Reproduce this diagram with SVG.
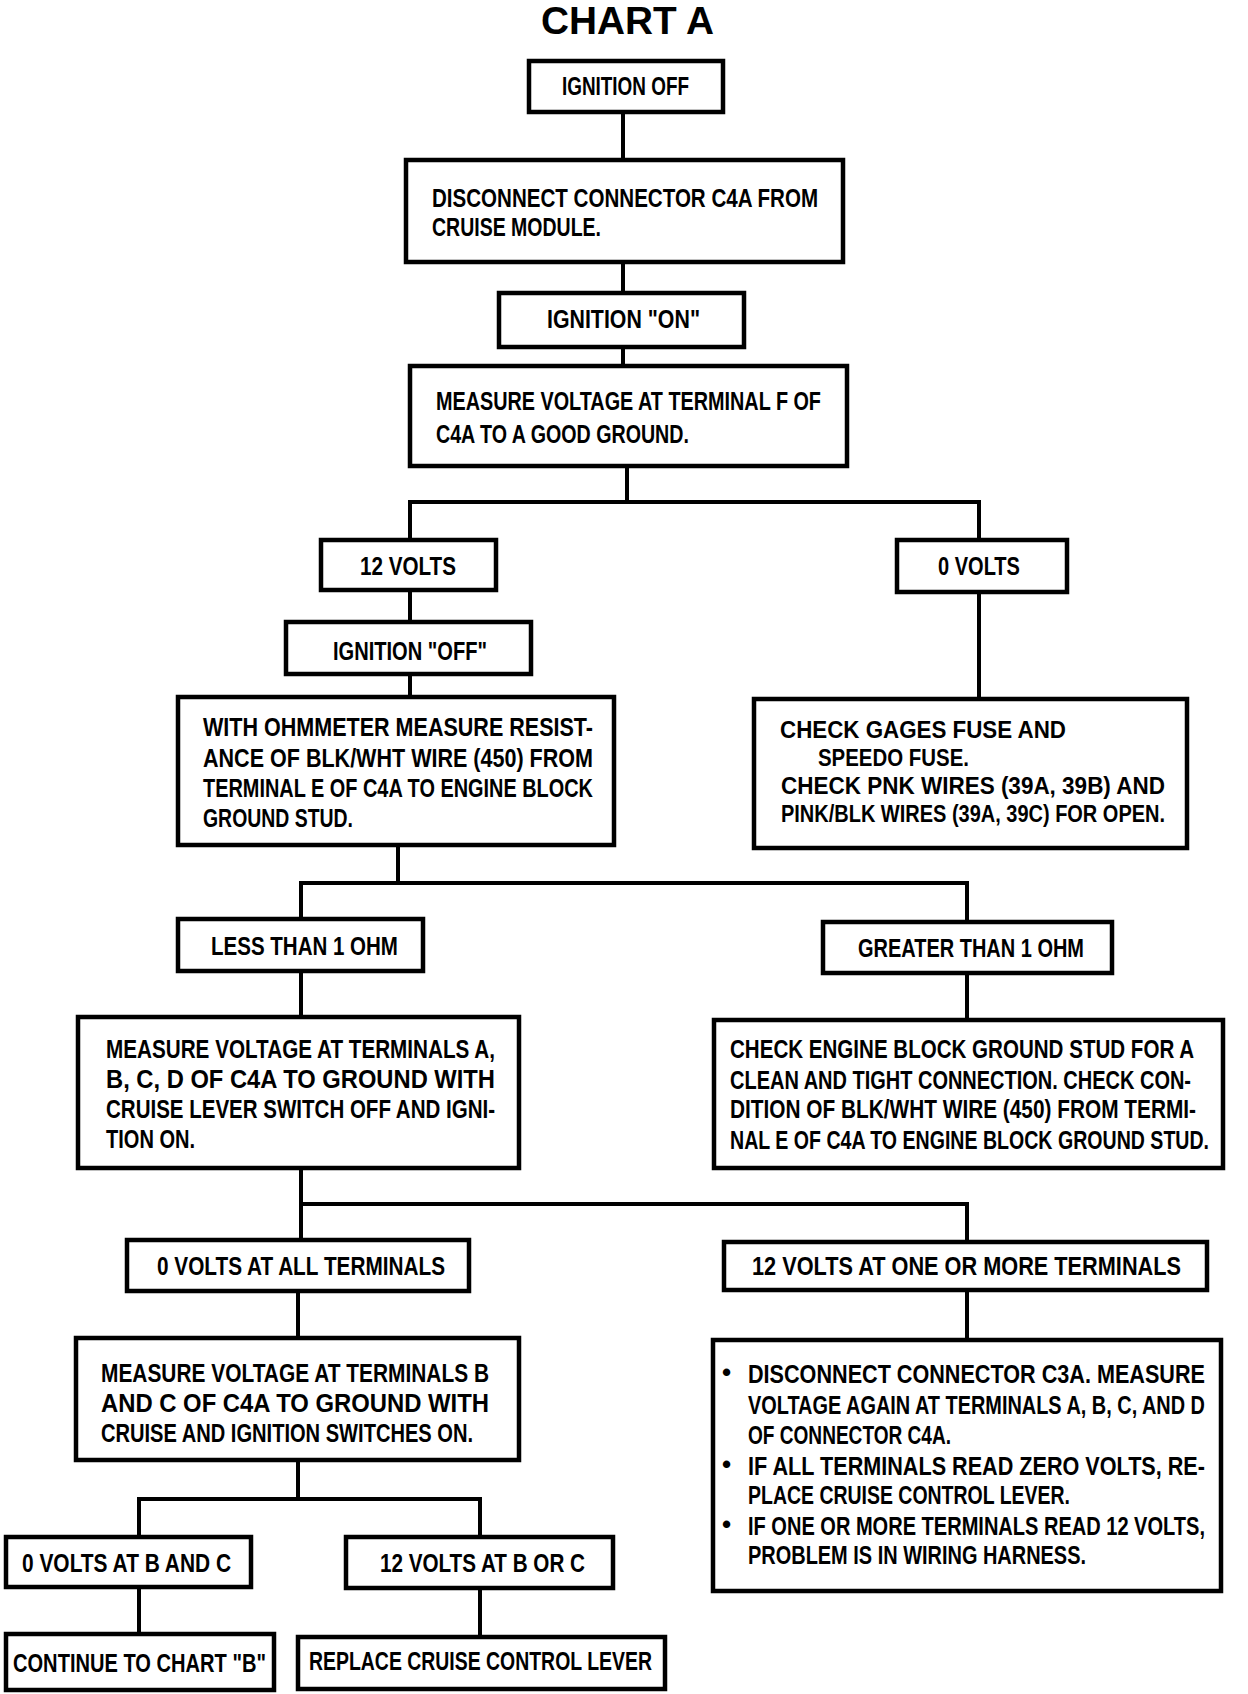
<svg xmlns="http://www.w3.org/2000/svg" width="1248" height="1694" viewBox="0 0 1248 1694">
<style>
.bg{fill:#fff}
.box{fill:#fff;stroke:#000;stroke-width:4.5}
.ln{fill:none;stroke:#000;stroke-width:4;stroke-linecap:square}
text{font-family:"Liberation Sans",Arial,sans-serif;font-weight:bold;font-size:26px;fill:#000}
.title{font-size:38px}
.sm{font-size:24px}
</style>
<rect class="bg" x="0" y="0" width="1248" height="1694"/>
<text class="title" x="541" y="34" textLength="173" lengthAdjust="spacingAndGlyphs">CHART A</text>
<g id="connectors">
<path class="ln" d="M623,112V160M623,262V293M623,347V366"/>
<path class="ln" d="M627,466V502M410,502H979M410,502V540M979,502V540"/>
<path class="ln" d="M410,590V622M410,674V697M979,592V699"/>
<path class="ln" d="M398,845V883M301,883H967M301,883V919M967,883V922"/>
<path class="ln" d="M301,971V1017M967,973V1020"/>
<path class="ln" d="M301,1168V1204M301,1204H967M301,1204V1240M967,1204V1242"/>
<path class="ln" d="M298,1291V1338M967,1290V1340"/>
<path class="ln" d="M298,1460V1499M139,1499H480M139,1499V1537M480,1499V1537"/>
<path class="ln" d="M139,1587V1634M480,1588V1637"/>
</g>
<g id="ignition-off">
<rect class="box" x="529" y="61" width="194" height="51"/>
<text transform="matrix(.75 0 0 1 562 95)" textLength="169.3" lengthAdjust="spacingAndGlyphs">IGNITION OFF</text>
</g>
<g id="disconnect-c4a">
<rect class="box" x="406" y="160" width="437" height="102"/>
<text transform="matrix(.75 0 0 1 432 207)" textLength="514.7" lengthAdjust="spacingAndGlyphs">DISCONNECT  CONNECTOR  C4A  FROM</text>
<text transform="matrix(.75 0 0 1 432 236)" textLength="225.3" lengthAdjust="spacingAndGlyphs">CRUISE MODULE.</text>
</g>
<g id="ignition-on">
<rect class="box" x="499" y="293" width="245" height="54"/>
<text transform="matrix(.75 0 0 1 547 328)" textLength="204" lengthAdjust="spacingAndGlyphs">IGNITION "ON"</text>
</g>
<g id="measure-f">
<rect class="box" x="410" y="366" width="437" height="100"/>
<text transform="matrix(.75 0 0 1 436 410)" textLength="513.3" lengthAdjust="spacingAndGlyphs">MEASURE VOLTAGE AT TERMINAL F OF</text>
<text transform="matrix(.75 0 0 1 436 443)" textLength="337.3" lengthAdjust="spacingAndGlyphs">C4A TO A GOOD GROUND.</text>
</g>
<g id="twelve-volts">
<rect class="box" x="321" y="540" width="175" height="50"/>
<text transform="matrix(.75 0 0 1 360 575)" textLength="128" lengthAdjust="spacingAndGlyphs">12 VOLTS</text>
</g>
<g id="zero-volts">
<rect class="box" x="897" y="540" width="170" height="52"/>
<text transform="matrix(.75 0 0 1 938 575)" textLength="109.3" lengthAdjust="spacingAndGlyphs">0 VOLTS</text>
</g>
<g id="ignition-off-2">
<rect class="box" x="286" y="622" width="245" height="52"/>
<text transform="matrix(.75 0 0 1 333 660)" textLength="205.3" lengthAdjust="spacingAndGlyphs">IGNITION "OFF"</text>
</g>
<g id="ohmmeter">
<rect class="box" x="178" y="697" width="436" height="148"/>
<text transform="matrix(.75 0 0 1 203 736)" textLength="520" lengthAdjust="spacingAndGlyphs">WITH  OHMMETER  MEASURE  RESIST-</text>
<text transform="matrix(.75 0 0 1 203 767)" textLength="520" lengthAdjust="spacingAndGlyphs">ANCE  OF  BLK/WHT  WIRE  (450)  FROM</text>
<text transform="matrix(.75 0 0 1 203 797)" textLength="520" lengthAdjust="spacingAndGlyphs">TERMINAL E OF C4A TO ENGINE BLOCK</text>
<text transform="matrix(.75 0 0 1 203 827)" textLength="200" lengthAdjust="spacingAndGlyphs">GROUND STUD.</text>
</g>
<g id="check-gages">
<rect class="box" x="754" y="699" width="433" height="149"/>
<text class="sm" transform="matrix(.75 0 0 1 780 738)" textLength="381.3" lengthAdjust="spacingAndGlyphs">CHECK  GAGES  FUSE  AND</text>
<text class="sm" transform="matrix(.75 0 0 1 818 766)" textLength="201.3" lengthAdjust="spacingAndGlyphs">SPEEDO FUSE.</text>
<text class="sm" transform="matrix(.75 0 0 1 781 794)" textLength="512" lengthAdjust="spacingAndGlyphs">CHECK  PNK  WIRES  (39A,  39B)  AND</text>
<text class="sm" transform="matrix(.75 0 0 1 781 822)" textLength="512" lengthAdjust="spacingAndGlyphs">PINK/BLK WIRES (39A, 39C) FOR OPEN.</text>
</g>
<g id="less-than-1-ohm">
<rect class="box" x="178" y="919" width="245" height="52"/>
<text transform="matrix(.75 0 0 1 211 955)" textLength="249.3" lengthAdjust="spacingAndGlyphs">LESS THAN 1 OHM</text>
</g>
<g id="greater-than-1-ohm">
<rect class="box" x="823" y="922" width="289" height="51"/>
<text transform="matrix(.75 0 0 1 858 957)" textLength="301.3" lengthAdjust="spacingAndGlyphs">GREATER THAN 1 OHM</text>
</g>
<g id="measure-abcd">
<rect class="box" x="78" y="1017" width="441" height="151"/>
<text transform="matrix(.75 0 0 1 106 1058)" textLength="518.7" lengthAdjust="spacingAndGlyphs">MEASURE VOLTAGE AT TERMINALS A,</text>
<text transform="matrix(.75 0 0 1 106 1088)" textLength="518.7" lengthAdjust="spacingAndGlyphs">B,  C,  D  OF  C4A  TO  GROUND  WITH</text>
<text transform="matrix(.75 0 0 1 106 1118)" textLength="518.7" lengthAdjust="spacingAndGlyphs">CRUISE LEVER SWITCH OFF AND IGNI-</text>
<text transform="matrix(.75 0 0 1 106 1148)" textLength="118.7" lengthAdjust="spacingAndGlyphs">TION ON.</text>
</g>
<g id="check-engine-block">
<rect class="box" x="714" y="1020" width="509" height="148"/>
<text transform="matrix(.75 0 0 1 730 1058)" textLength="618.7" lengthAdjust="spacingAndGlyphs">CHECK  ENGINE  BLOCK  GROUND  STUD  FOR  A</text>
<text transform="matrix(.75 0 0 1 730 1089)" textLength="614.7" lengthAdjust="spacingAndGlyphs">CLEAN AND TIGHT CONNECTION. CHECK  CON-</text>
<text transform="matrix(.75 0 0 1 730 1118)" textLength="621.3" lengthAdjust="spacingAndGlyphs">DITION OF BLK/WHT WIRE (450) FROM TERMI-</text>
<text transform="matrix(.75 0 0 1 730 1149)" textLength="638.7" lengthAdjust="spacingAndGlyphs">NAL E OF C4A TO ENGINE BLOCK GROUND STUD.</text>
</g>
<g id="zero-volts-all">
<rect class="box" x="127" y="1240" width="342" height="51"/>
<text transform="matrix(.75 0 0 1 157 1275)" textLength="384" lengthAdjust="spacingAndGlyphs">0 VOLTS AT ALL TERMINALS</text>
</g>
<g id="twelve-volts-one-or-more">
<rect class="box" x="724" y="1242" width="483" height="48"/>
<text transform="matrix(.75 0 0 1 752 1275)" textLength="572" lengthAdjust="spacingAndGlyphs">12  VOLTS  AT  ONE  OR  MORE  TERMINALS</text>
</g>
<g id="measure-bc">
<rect class="box" x="76" y="1338" width="443" height="122"/>
<text transform="matrix(.75 0 0 1 101 1382)" textLength="517.3" lengthAdjust="spacingAndGlyphs">MEASURE  VOLTAGE  AT  TERMINALS  B</text>
<text transform="matrix(.75 0 0 1 101 1412)" textLength="517.3" lengthAdjust="spacingAndGlyphs">AND  C  OF  C4A  TO  GROUND  WITH</text>
<text transform="matrix(.75 0 0 1 101 1442)" textLength="496" lengthAdjust="spacingAndGlyphs">CRUISE AND IGNITION SWITCHES ON.</text>
</g>
<g id="zero-volts-bc">
<rect class="box" x="6" y="1537" width="245" height="50"/>
<text transform="matrix(.75 0 0 1 22 1572)" textLength="278.7" lengthAdjust="spacingAndGlyphs">0 VOLTS AT B AND C</text>
</g>
<g id="twelve-volts-bc">
<rect class="box" x="346" y="1537" width="267" height="51"/>
<text transform="matrix(.75 0 0 1 380 1572)" textLength="273.3" lengthAdjust="spacingAndGlyphs">12 VOLTS AT B OR C</text>
</g>
<g id="continue-chart-b">
<rect class="box" x="6" y="1634" width="268" height="56"/>
<text transform="matrix(.75 0 0 1 13 1672)" textLength="337.3" lengthAdjust="spacingAndGlyphs">CONTINUE TO CHART "B"</text>
</g>
<g id="replace-lever">
<rect class="box" x="298" y="1637" width="367" height="52"/>
<text transform="matrix(.75 0 0 1 309 1670)" textLength="457.3" lengthAdjust="spacingAndGlyphs">REPLACE CRUISE CONTROL LEVER</text>
</g>
<g id="disconnect-c3a">
<rect class="box" x="713" y="1340" width="508" height="251"/>
<text x="722" y="1381">•</text>
<text transform="matrix(.75 0 0 1 748 1383)" textLength="609.3" lengthAdjust="spacingAndGlyphs">DISCONNECT  CONNECTOR  C3A.  MEASURE</text>
<text transform="matrix(.75 0 0 1 748 1414)" textLength="609.3" lengthAdjust="spacingAndGlyphs">VOLTAGE AGAIN AT TERMINALS A, B, C, AND D</text>
<text transform="matrix(.75 0 0 1 748 1444)" textLength="270.7" lengthAdjust="spacingAndGlyphs">OF CONNECTOR C4A.</text>
<text x="722" y="1473">•</text>
<text transform="matrix(.75 0 0 1 748 1475)" textLength="609.3" lengthAdjust="spacingAndGlyphs">IF  ALL  TERMINALS  READ  ZERO  VOLTS,  RE-</text>
<text transform="matrix(.75 0 0 1 748 1504)" textLength="429.3" lengthAdjust="spacingAndGlyphs">PLACE CRUISE CONTROL LEVER.</text>
<text x="722" y="1533">•</text>
<text transform="matrix(.75 0 0 1 748 1535)" textLength="609.3" lengthAdjust="spacingAndGlyphs">IF ONE OR MORE TERMINALS READ 12 VOLTS,</text>
<text transform="matrix(.75 0 0 1 748 1564)" textLength="450.7" lengthAdjust="spacingAndGlyphs">PROBLEM IS IN WIRING HARNESS.</text>
</g>
</svg>
